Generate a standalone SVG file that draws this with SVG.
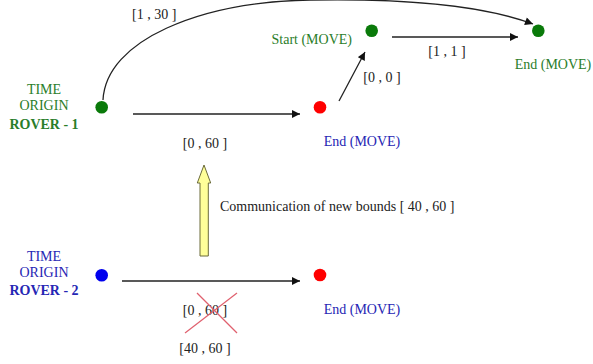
<svg xmlns="http://www.w3.org/2000/svg" width="593" height="364" viewBox="0 0 593 364">
<defs>
<style>
text{font-family:"Liberation Serif","Times New Roman",serif;font-size:14px;}
.g{fill:#2a7d2a;}
.b{fill:#2626b4;}
.k{fill:#222;}
.bold{font-weight:bold;}
.c{stroke:#222;stroke-width:1.3;fill:none;marker-end:url(#ah);}
</style>
<marker id="ah" viewBox="0 0 10 10" refX="10" refY="5" markerWidth="10" markerHeight="8" markerUnits="userSpaceOnUse" orient="auto">
<path d="M0,0 L10,5 L0,10 z" fill="#111"/>
</marker>
</defs>
<rect width="593" height="364" fill="#fff"/>
<g id="connectors">
<path class="c" d="M103,100 C106,40 200,2 310,0 S490,8 533,24"/>
<line class="c" x1="133" y1="114" x2="300" y2="114"/>
<line class="c" x1="339" y1="101" x2="365" y2="52"/>
<line class="c" x1="392" y1="37" x2="518" y2="37"/>
<line class="c" x1="122" y1="281" x2="300" y2="281"/>
<polygon id="comm-arrow" points="200,256 208.3,256 208.3,183 210.7,183 204,165 197.3,183 200,183" fill="#ffff99" stroke="#6b6b3a" stroke-width="1"/>
<text class="k" x="132" y="19">[1 , 30 ]</text>
<text class="k" x="205" y="148" text-anchor="middle">[0 , 60 ]</text>
<text class="k" x="382" y="82" text-anchor="middle">[0 , 0 ]</text>
<text class="k" x="447" y="56" text-anchor="middle">[1 , 1 ]</text>
<text class="k" x="220" y="211">Communication of new bounds [ 40 , 60 ]</text>
<text class="k" x="205" y="315" text-anchor="middle">[0 , 60 ]</text>
<g id="cross" stroke="#e0606e" stroke-width="1.2">
<line x1="197" y1="293" x2="237" y2="333"/>
<line x1="237" y1="293" x2="185" y2="333"/>
</g>
<text class="k" x="205" y="353" text-anchor="middle">[40 , 60 ]</text>
</g>
<g id="rover1-origin">
<circle cx="101.7" cy="107.3" r="6.3" fill="#0a7a0a"/>
<text class="g" x="44" y="94" text-anchor="middle">TIME</text>
<text class="g" x="44" y="110" text-anchor="middle">ORIGIN</text>
<text class="g bold" x="44" y="129" text-anchor="middle">ROVER - 1</text>
</g>
<g id="rover1-end">
<circle cx="320" cy="107.3" r="6.3" fill="#ff0000"/>
<text class="b" x="362" y="146" text-anchor="middle">End (MOVE)</text>
</g>
<g id="start-move">
<circle cx="371.7" cy="30.7" r="6.3" fill="#0a7a0a"/>
<text class="g" x="352" y="44" text-anchor="end">Start (MOVE)</text>
</g>
<g id="end-move-top">
<circle cx="538.3" cy="30.7" r="6.3" fill="#0a7a0a"/>
<text class="g" x="553" y="69" text-anchor="middle">End (MOVE)</text>
</g>
<g id="rover2-origin">
<circle cx="101.7" cy="275.3" r="6.3" fill="#0000ee"/>
<text class="b" x="44" y="261" text-anchor="middle">TIME</text>
<text class="b" x="44" y="277" text-anchor="middle">ORIGIN</text>
<text class="b bold" x="44" y="295" text-anchor="middle">ROVER - 2</text>
</g>
<g id="rover2-end">
<circle cx="320" cy="275" r="6.3" fill="#ff0000"/>
<text class="b" x="362" y="314" text-anchor="middle">End (MOVE)</text>
</g>
</svg>
